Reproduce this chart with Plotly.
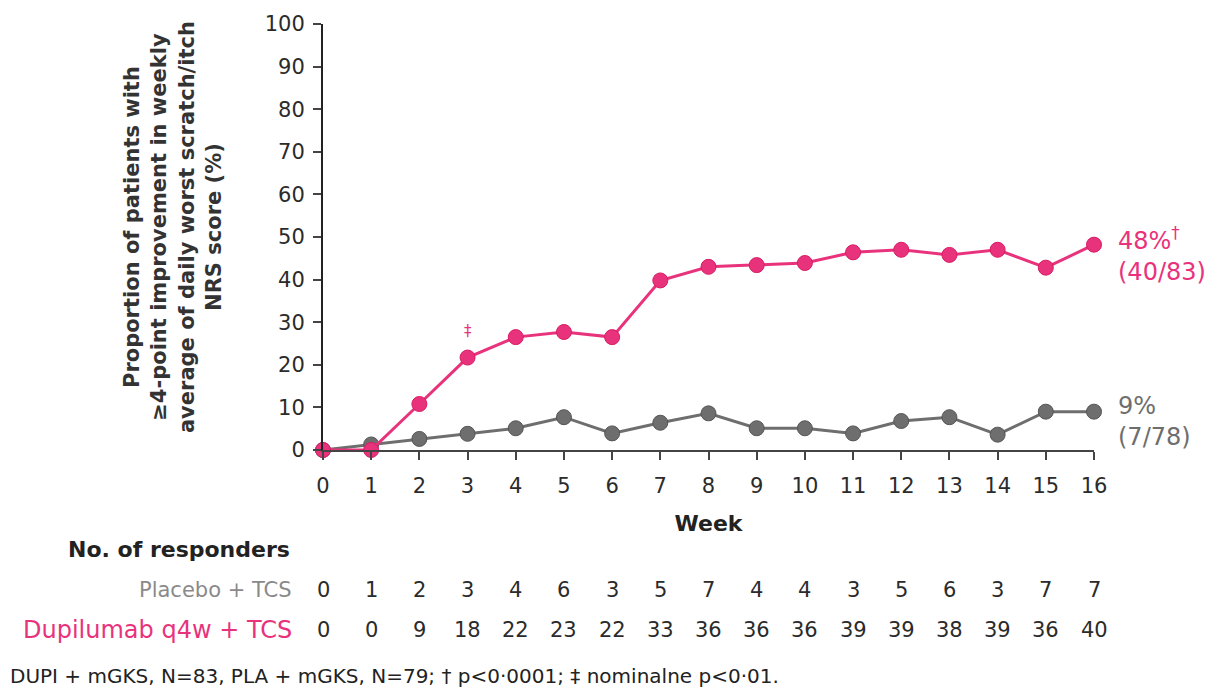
import plotly.graph_objects as go

weeks = list(range(17))
placebo_pct = [0, 1.3, 2.6, 3.8, 5.1, 7.7, 3.9, 6.4, 8.6, 5.1, 5.1, 3.9, 6.8, 7.7, 3.6, 9.0, 9.0]
dupi_pct = [0, 0, 10.8, 21.7, 26.5, 27.7, 26.5, 39.8, 43.0, 43.4, 43.9, 46.4, 47.0, 45.8, 47.0, 42.8, 48.2]
placebo_resp = [0, 1, 2, 3, 4, 6, 3, 5, 7, 4, 4, 3, 5, 6, 3, 7, 7]
dupi_resp = [0, 0, 9, 18, 22, 23, 22, 33, 36, 36, 36, 39, 39, 38, 39, 36, 40]
y_ticks = list(range(0, 101, 10))

PINK = "#e8337c"
GRAY = "#6e6e6e"
DARK = "#2b2b2b"
FONT = "DejaVu Sans, Verdana, sans-serif"

W, H = 1222, 696
M_L, M_R, M_T, M_B = 323, 128, 22, 246
plot_w = W - M_L - M_R
plot_h = H - M_T - M_B


def py(pix):
    """Pixel row -> paper y coordinate."""
    return (H - M_B - pix) / plot_h


def px(pix):
    """Pixel column -> paper x coordinate."""
    return (pix - M_L) / plot_w


fig = go.Figure()
fig.add_trace(go.Scatter(
    x=weeks, y=placebo_pct, mode="lines+markers", cliponaxis=False,
    line=dict(color=GRAY, width=3),
    marker=dict(color=GRAY, size=15, line=dict(color="#555555", width=1)),
    name="Placebo + TCS", showlegend=False,
))
fig.add_trace(go.Scatter(
    x=weeks, y=dupi_pct, mode="lines+markers", cliponaxis=False,
    line=dict(color=PINK, width=3),
    marker=dict(color=PINK, size=15, line=dict(color="#d81b64", width=1)),
    name="Dupilumab q4w + TCS", showlegend=False,
))

ann = []
# significance mark at week 3
ann.append(dict(x=3, y=dupi_pct[3], xref="x", yref="y", yshift=27, text="‡",
                showarrow=False, font=dict(color=PINK, size=15, family=FONT)))
# end-of-line labels
ann.append(dict(x=16, y=dupi_pct[-1], xref="x", yref="y", xshift=22, yshift=-10,
                xanchor="left", yanchor="middle", showarrow=False, align="left",
                text="48%<sup>†</sup><br>(40/83)",
                font=dict(color=PINK, size=24, family=FONT)))
ann.append(dict(x=16, y=placebo_pct[-1], xref="x", yref="y", xshift=22, yshift=-10,
                xanchor="left", yanchor="middle", showarrow=False, align="left",
                text="9%<br>(7/78)",
                font=dict(color=GRAY, size=24, family=FONT)))
# y-axis title
ann.append(dict(x=px(173), y=py(226), xref="paper", yref="paper", showarrow=False,
                textangle=-90, xanchor="center", yanchor="middle",
                text="<b>Proportion of patients with<br>≥4-point improvement in weekly<br>"
                     "average of daily worst scratch/itch<br>NRS score (%)</b>",
                font=dict(color="#333333", size=21, family=FONT)))
# responder table
ann.append(dict(x=px(292), y=py(550), xref="paper", yref="paper", showarrow=False,
                xanchor="right", yanchor="middle", text="<b>No. of responders</b>",
                font=dict(color="#222222", size=22, family=FONT)))
ann.append(dict(x=px(294), y=py(591), xref="paper", yref="paper", showarrow=False,
                xanchor="right", yanchor="middle", text="Placebo + TCS",
                font=dict(color="#8a8a8a", size=21, family=FONT)))
ann.append(dict(x=px(294), y=py(631), xref="paper", yref="paper", showarrow=False,
                xanchor="right", yanchor="middle", text="Dupilumab q4w + TCS",
                font=dict(color=PINK, size=24, family=FONT)))
for w, p, d in zip(weeks, placebo_resp, dupi_resp):
    ann.append(dict(x=w, y=py(591), xref="x", yref="paper", showarrow=False,
                    yanchor="middle", text=str(p),
                    font=dict(color=DARK, size=21, family=FONT)))
    ann.append(dict(x=w, y=py(631), xref="x", yref="paper", showarrow=False,
                    yanchor="middle", text=str(d),
                    font=dict(color=DARK, size=21, family=FONT)))
# footnote
ann.append(dict(x=px(8), y=py(677), xref="paper", yref="paper", showarrow=False,
                xanchor="left", yanchor="middle",
                text="DUPI + mGKS, N=83, PLA + mGKS, N=79; † p<0·0001; ‡ nominalne p<0·01.",
                font=dict(color="#222222", size=20, family=FONT)))

fig.update_layout(
    width=W, height=H,
    margin=dict(l=M_L, r=M_R, t=M_T, b=M_B),
    paper_bgcolor="white", plot_bgcolor="white",
    font=dict(family=FONT, color=DARK, size=21),
    annotations=ann,
    xaxis=dict(range=[0, 16], tickvals=weeks, ticktext=[str(w) for w in weeks],
               showgrid=False, zeroline=False, showline=True, linecolor="#444444",
               linewidth=2, ticks="outside", ticklen=8, tickwidth=1.5, tickcolor="#444444",
               ticklabelstandoff=8,
               tickfont=dict(size=21, color=DARK),
               title=dict(text="<b>Week</b>", font=dict(size=22, color="#222222"), standoff=18)),
    yaxis=dict(range=[0, 100], tickvals=y_ticks, showgrid=False, zeroline=False,
               showline=True, linecolor="#222222", linewidth=2, ticks="outside",
               ticklen=8, tickwidth=1.5, tickcolor="#444444", ticklabelstandoff=4,
               tickfont=dict(size=21, color=DARK)),
)

fig.write_html("out.html")
